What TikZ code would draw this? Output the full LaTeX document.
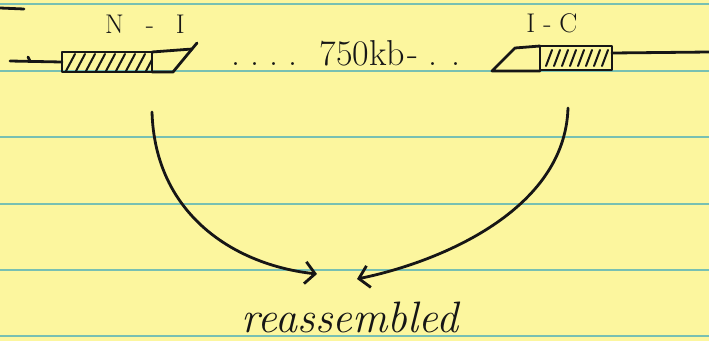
\documentclass[tikz,border=0pt]{standalone}
\usetikzlibrary{arrows.meta}
\definecolor{paper}{RGB}{252,246,158}
\definecolor{rulecol}{RGB}{120,192,178}
\definecolor{ink}{RGB}{22,22,22}
\begin{document}
\begin{tikzpicture}[x=1pt,y=-1pt,
  pen/.style={draw=ink, line width=2.8pt, line cap=round, line join=round},
  thinpen/.style={draw=ink, line width=2pt, line cap=round},
  hatchbox/.style={pen, minimum width=#1, inner sep=0pt, outer sep=0pt},
  lbl/.style={text=ink, font=\fontsize{27}{30}\selectfont, inner sep=0pt},
  arr/.style={pen, -{Straight Barb[length=10pt,width=22pt,line width=2.8pt]}}]
\fill[paper] (0,0) rectangle (709,341);
\useasboundingbox (0,0) rectangle (709,341);
\foreach \yy in {4,71,137,204,270,336}
  \draw[rulecol, line width=1.3pt] (0,\yy) -- (709,\yy);
% top-left scribble
\draw[pen] (0,8) -- (24,9);
% left element
\node[hatchbox=90pt, minimum height=20pt] (nbox) at (107,62) {};
\begin{scope}
  \clip (nbox.south west) rectangle (nbox.north east);
  \foreach \xx in {66,76,...,146} \draw[thinpen] (\xx,71) -- (\xx+9,54);
\end{scope}
\coordinate (nwtop) at (192,49);
\coordinate (nwbot) at (173,72);
\draw[pen] (nbox.north east) -- (nwtop) -- (197,43);
\draw[pen] (nwtop) -- (nwbot) -- (nbox.south east);
\coordinate (lline) at (10,61);
\draw[pen] (lline) -- (nbox.west);
\draw[pen] (28,57) -- (30,61);
\node[lbl] (nilabel) at (145,24) {N\hspace{22pt}-\hspace{22pt}I};
% middle text
\node[text=ink, font=\fontsize{36}{40}\selectfont, inner sep=0pt, anchor=base] (mid) at (346,65)
  {.\hspace{10pt}.\hspace{10pt}.\hspace{10pt}.\hspace{22pt}750kb\hspace{2pt}-\hspace{10pt}.\hspace{14pt}.};
% right element
\node[hatchbox=72pt, minimum height=24pt] (rbox) at (576,58) {};
\begin{scope}
  \clip (rbox.south west) rectangle (rbox.north east);
  \foreach \xx in {546,554,...,606} \draw[thinpen] (\xx,66) -- (\xx+6,50);
\end{scope}
\coordinate (rwtop) at (515,48);
\coordinate (rwbot) at (492,71);
\draw[pen] (rbox.north west) -- (rwtop) -- (rwbot) -- (rbox.south west |- rwbot);
\coordinate (rline) at (709,52);
\draw[pen] (rbox.east |- 0,53) -- (rline);
\node[lbl] (iclabel) at (552,23) {I\hspace{8pt}-\hspace{8pt}C};
% arrows
\coordinate (lstart) at (152,112);
\coordinate (ltip) at (317,274);
\coordinate (rstart) at (568,108);
\coordinate (rtip) at (357,279);
\draw[arr] (lstart) .. controls (155,215) and (235,265) .. (ltip);
\draw[arr] (rstart) .. controls (565,210) and (440,262) .. (rtip);
\node[text=ink, font=\fontsize{44}{48}\selectfont\itshape, inner sep=0pt, anchor=base] (rea) at (350,332) {reassembled};
\end{tikzpicture}
\end{document}
